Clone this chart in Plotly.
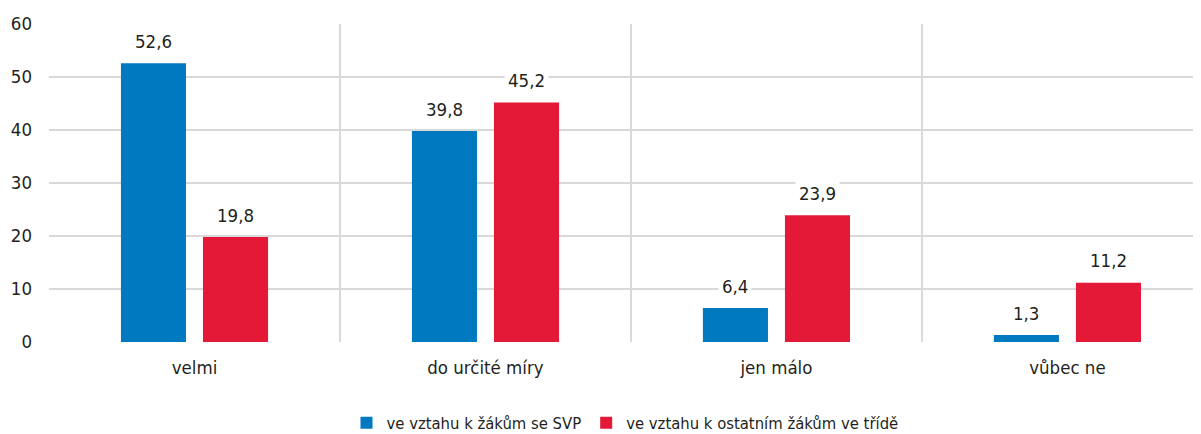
import plotly.graph_objects as go

categories = ["velmi", "do určité míry", "jen málo", "vůbec ne"]
series_names = ["ve vztahu k žákům se SVP", "ve vztahu k ostatním žákům ve třídě"]
svp_values = [52.6, 39.8, 6.4, 1.3]
other_values = [19.8, 45.2, 23.9, 11.2]
y_ticks = [0, 10, 20, 30, 40, 50, 60]

colors = ["#0079c1", "#e31937"]
FONT = "DejaVu Sans Condensed, Roboto, Arial"
TXT = "#231f20"
FS = 18.5

fig = go.Figure()
for name, vals, col in zip(series_names, [svp_values, other_values], colors):
    fig.add_trace(go.Bar(x=categories, y=vals, name=name, marker=dict(color=col, line=dict(width=0)),
                         offsetgroup=name))

# data labels with white background
ann = []
offsets = [-0.141, 0.141]
for si, vals in enumerate([svp_values, other_values]):
    for ci, v in enumerate(vals):
        ann.append(dict(x=ci + offsets[si], y=v, xref="x", yref="y", text=f"{v:.1f}".replace(".", ","),
                        showarrow=False, yshift=22, bgcolor="white", borderpad=3,
                        font=dict(family=FONT, size=FS, color=TXT)))

# page body has an 8px margin; compensate so the plot lands where the reference has it
fig.update_layout(
    width=1193, height=426,
    margin=dict(l=41, r=0, t=16, b=92, autoexpand=False),
    plot_bgcolor="white", paper_bgcolor="white",
    barmode="group", bargap=0.436, bargroupgap=0.207,
    font=dict(family=FONT, size=FS, color=TXT),
    showlegend=True,
    legend=dict(orientation="h", x=0.5, xanchor="center", y=-0.255, yanchor="middle",
                font=dict(family=FONT, size=16.5, color=TXT), itemwidth=30, traceorder="normal"),
    annotations=ann,
)
fig.update_xaxes(type="category", range=[-0.5, 3.459], tickson="boundaries", showgrid=True,
                 gridcolor="#d9d9d9", gridwidth=2, showline=False, ticks="", ticklabelstandoff=12,
                 tickfont=dict(family=FONT, size=FS, color=TXT), zeroline=False, automargin=False)
fig.update_yaxes(range=[0, 60], tickvals=y_ticks, showgrid=True, gridcolor="#d9d9d9", gridwidth=2,
                 zeroline=False, showline=False, ticks="", ticklabelstandoff=16, automargin=False,
                 tickfont=dict(family=FONT, size=FS, color=TXT))

fig.write_html("out.html")
